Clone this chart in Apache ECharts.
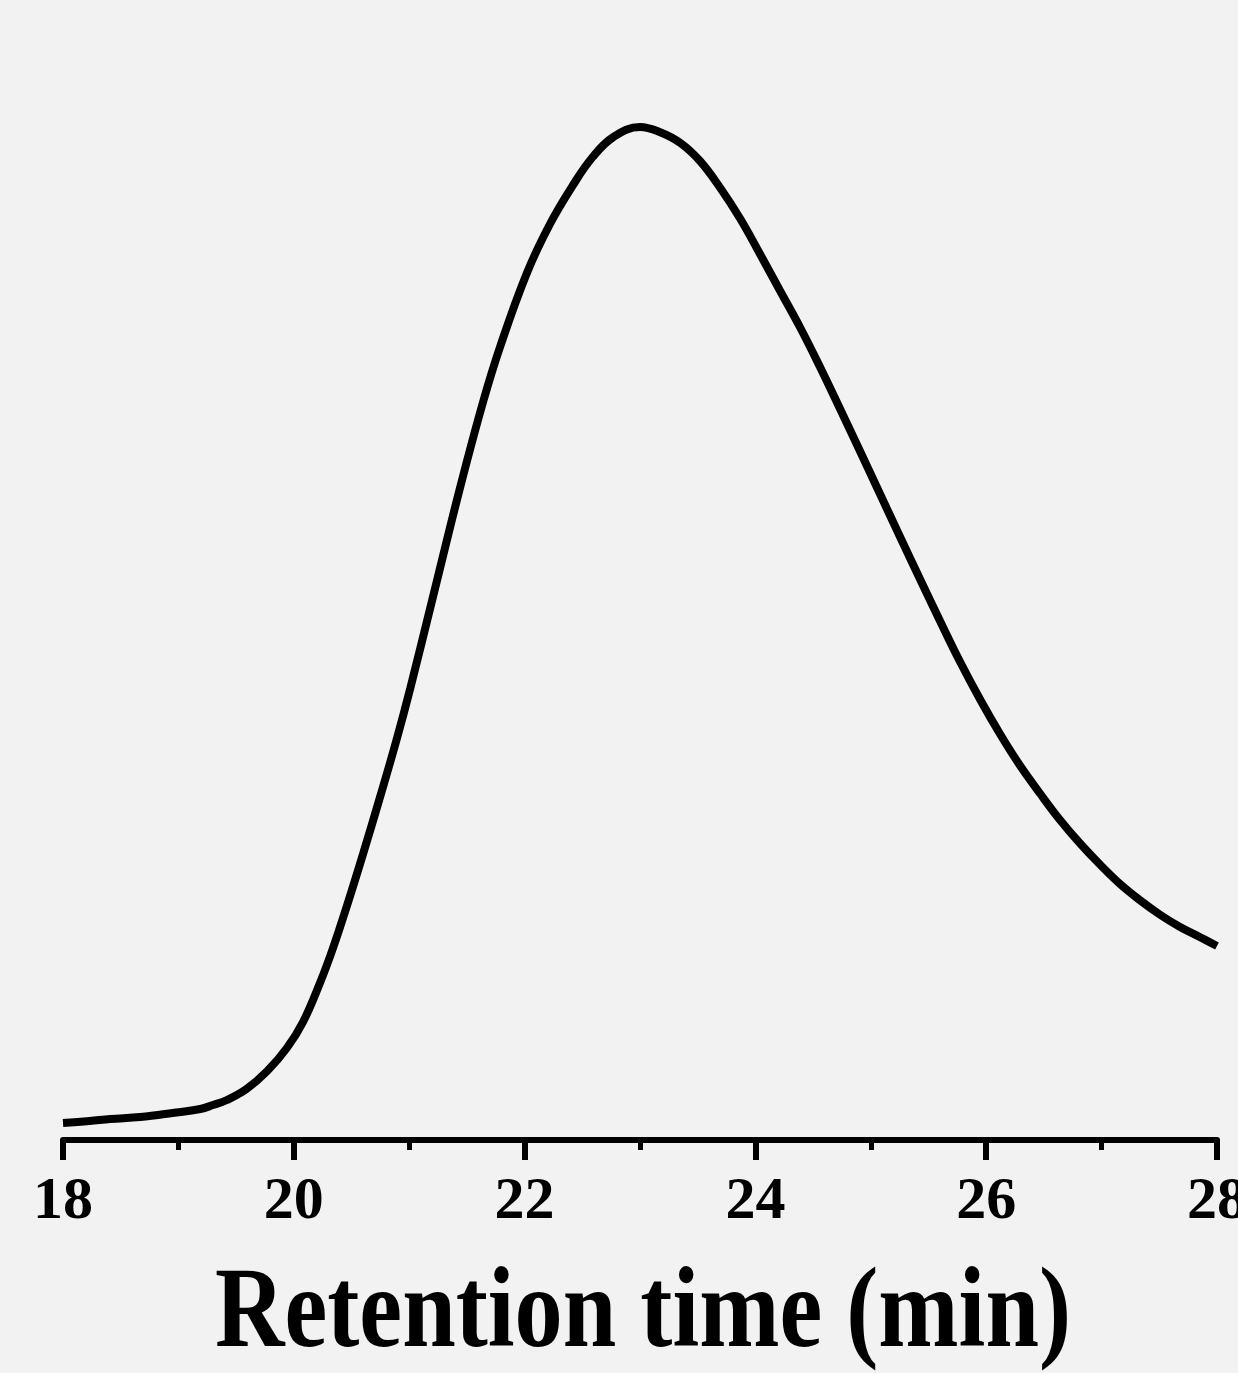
<!DOCTYPE html>
<html>
<head>
<meta charset="utf-8">
<style>
  html, body { margin: 0; padding: 0; background: #f2f2f2; overflow: hidden; }
  #chart { width: 1238px; height: 1373px; }
</style>
<script src="https://cdn.jsdelivr.net/npm/echarts@6/dist/echarts.min.js"></script>
</head>
<body>
<div id="chart"></div>
<script>
// retention time (min)
var times = [18.00, 18.23, 18.41, 18.67, 18.95, 19.19, 19.30, 19.42, 19.59, 19.77,
  19.94, 20.08, 20.23, 20.34, 20.46, 20.60, 20.75, 20.89, 21.01, 21.21,
  21.44, 21.64, 21.79, 22.02, 22.22, 22.42, 22.59, 22.77, 23.00,
  23.17, 23.35, 23.52, 23.69, 23.87, 24.04, 24.21, 24.39, 24.56, 24.73,
  24.91, 25.08, 25.25, 25.43, 25.60, 25.77, 25.95, 26.12, 26.29, 26.47,
  26.64, 26.81, 26.99, 27.16, 27.33, 27.51, 27.68, 27.85, 28.00];
// detector signal, arbitrary units (axis hidden)
var signal = [1.7, 1.9, 2.1, 2.3, 2.7, 3.1, 3.5, 4.0, 5.1, 6.9,
  9.2, 11.8, 15.8, 19.2, 23.4, 28.6, 34.4, 40.0, 45.2, 54.5,
  65.2, 73.8, 79.4, 86.7, 91.6, 95.5, 98.3, 100.3, 101.3,
  100.8, 99.7, 97.9, 95.3, 92.1, 88.6, 85.0, 81.2, 77.3, 73.2,
  68.8, 64.6, 60.4, 56.0, 51.9, 47.9, 44.0, 40.6, 37.5, 34.6,
  32.0, 29.7, 27.5, 25.6, 24.0, 22.5, 21.3, 20.3, 19.4];
var xTicks = [18, 20, 22, 24, 26, 28];
var xTitle = 'Retention time (min)';

var points = times.map(function (t, i) { return [t, signal[i]]; });

var myChart = echarts.init(document.getElementById('chart'));
var option = {
  backgroundColor: '#f2f2f2',
  animation: false,
  grid: {
    left: 63, right: 21, top: 40, bottom: 233,
    containLabel: false,
    outerBoundsMode: 'none'
  },
  xAxis: {
    type: 'value',
    min: xTicks[0],
    max: xTicks[xTicks.length - 1],
    interval: 2,
    axisLine: { show: true, onZero: false, lineStyle: { color: '#000', width: 6 } },
    axisTick: { show: true, inside: false, length: 20, lineStyle: { color: '#000', width: 6 } },
    minorTick: { show: true, splitNumber: 2, length: 10, lineStyle: { color: '#000', width: 5 } },
    splitLine: { show: false },
    axisLabel: {
      margin: 32,
      color: '#000',
      fontFamily: '"Liberation Serif", "Times New Roman", serif',
      fontWeight: 'bold',
      fontSize: 60
    }
  },
  yAxis: {
    type: 'value',
    min: 0,
    max: 110,
    show: false
  },
  series: [{
    type: 'line',
    data: points,
    smooth: 0.4,
    showSymbol: false,
    lineStyle: { color: '#000', width: 8 }
  }],
  graphic: [{
    type: 'text',
    x: 643,
    y: 1317,
    scaleX: 0.845,
    style: {
      text: xTitle,
      fill: '#000',
      font: 'bold 114px "Liberation Serif", "Times New Roman", serif',
      textAlign: 'center',
      textVerticalAlign: 'middle'
    }
  }]
};
myChart.setOption(option);
</script>
</body>
</html>
